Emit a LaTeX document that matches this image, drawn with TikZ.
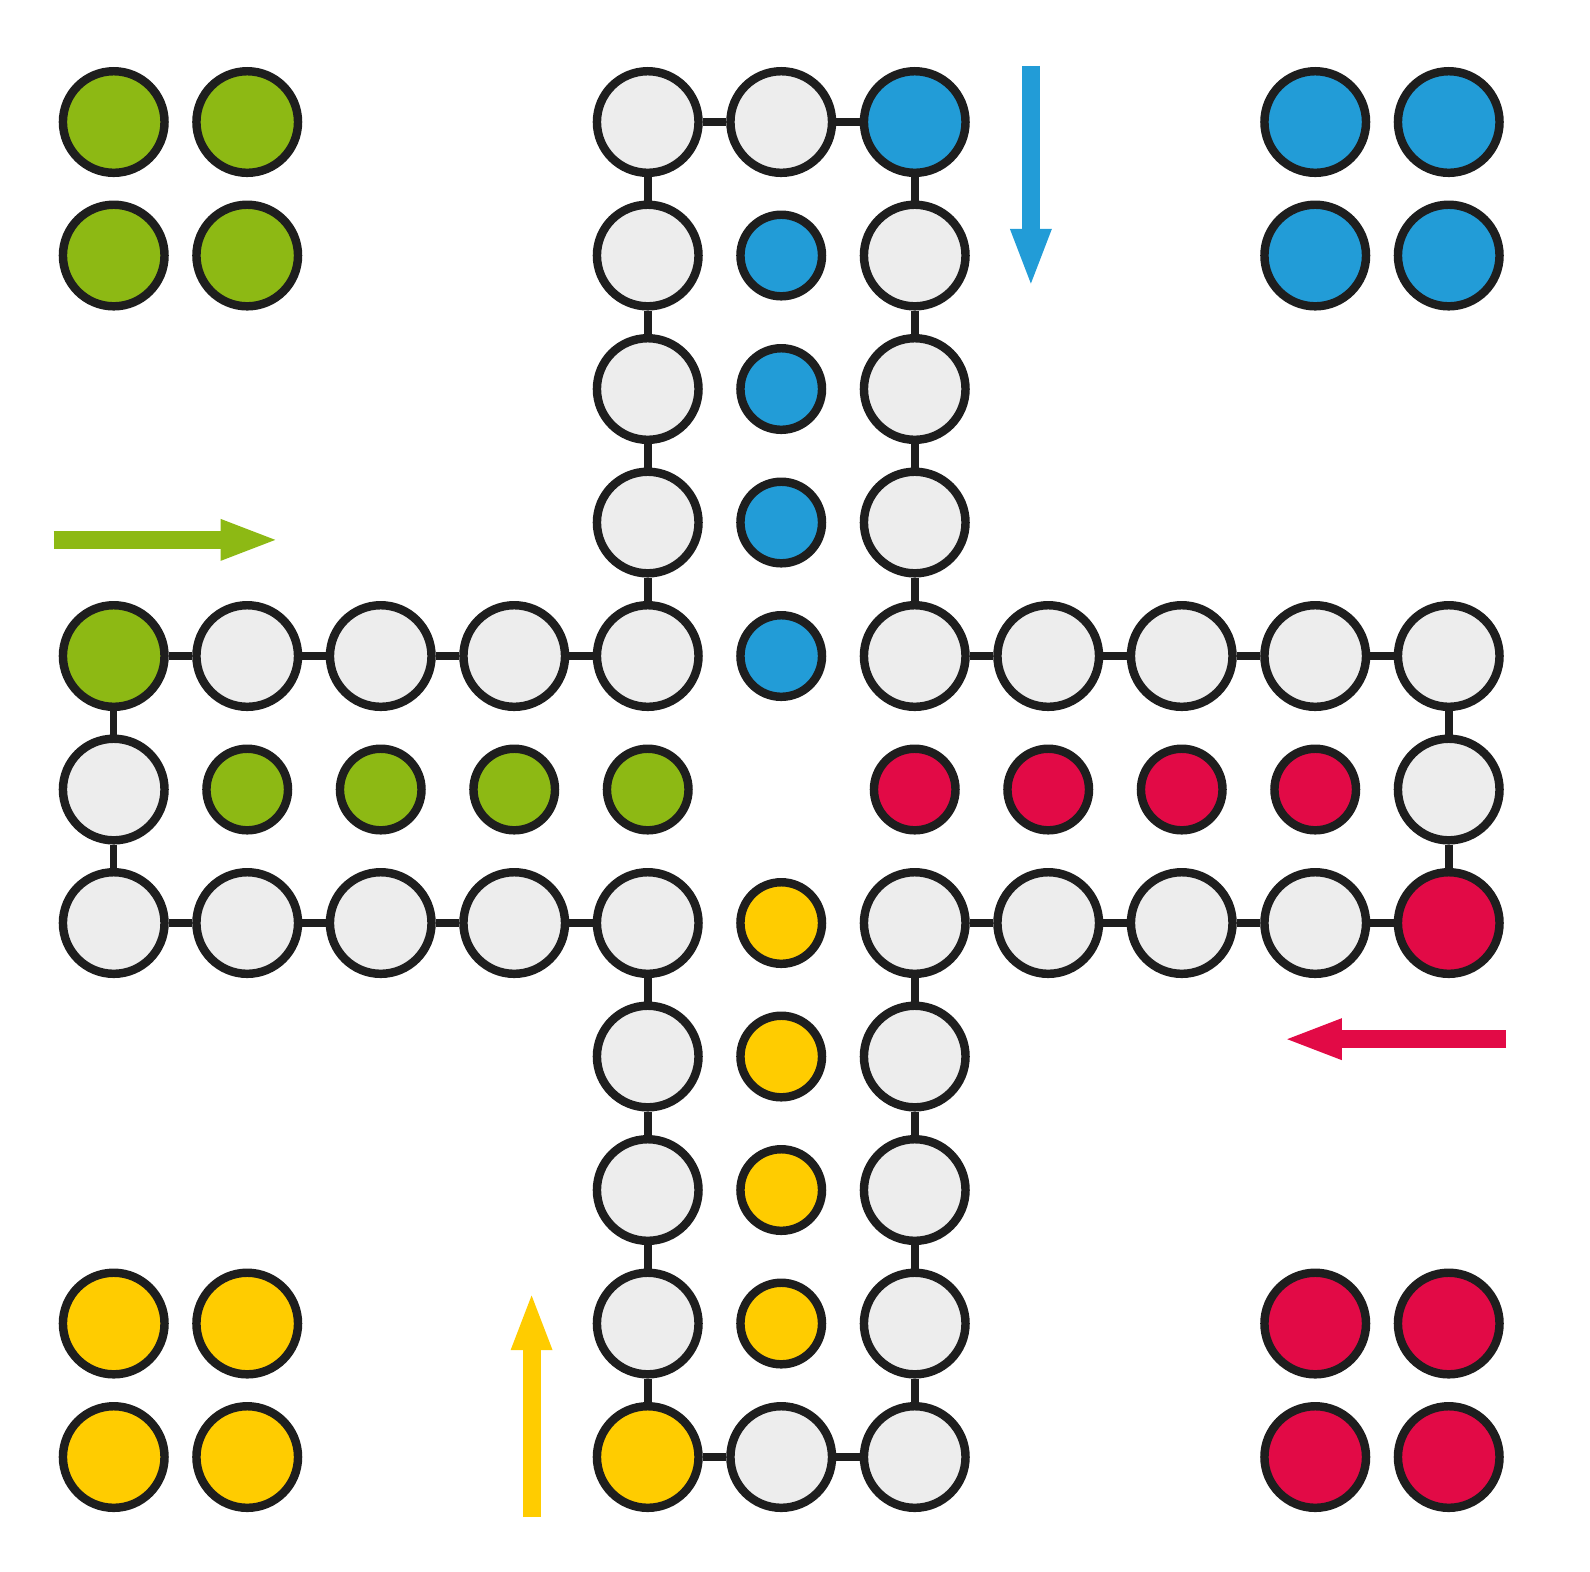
\documentclass[tikz,border=0pt]{standalone}
\usepackage{xcolor}
\usepackage{tikz}
\usetikzlibrary{arrows.meta}
\definecolor{ludoInk}{HTML}{1E1E1E}
\definecolor{ludoGrey}{HTML}{EDEDED}
\definecolor{ludoGreen}{HTML}{8DB914}
\definecolor{ludoBlue}{HTML}{229CD7}
\definecolor{ludoRed}{HTML}{E20A46}
\definecolor{ludoYellow}{HTML}{FFCC00}
\tikzset{
  field/.style={
    circle,
    draw=ludoInk,
    line width=1.8pt,
    fill=ludoGrey,
    minimum size=7.61mm,
    inner sep=0pt
  },
  goal/.style={field, minimum size=6.11mm},
  link/.style={draw=ludoInk, line width=1.6pt},
  runarrow/.style={line width=3.8pt, -{Triangle[length=4.1mm, width=3.15mm, line width=0pt]}}
}

\begin{document}
\begin{tikzpicture}
  \useasboundingbox (-0.852,-10.861) rectangle (11.058,0.914);

  % track, clockwise from the green start
  \foreach \x/\y/\col [count=\i] in {
      0/4/ludoGreen, 1/4/ludoGrey, 2/4/ludoGrey, 3/4/ludoGrey, 4/4/ludoGrey,
      4/3/ludoGrey, 4/2/ludoGrey, 4/1/ludoGrey, 4/0/ludoGrey, 5/0/ludoGrey,
      6/0/ludoBlue, 6/1/ludoGrey, 6/2/ludoGrey, 6/3/ludoGrey, 6/4/ludoGrey,
      7/4/ludoGrey, 8/4/ludoGrey, 9/4/ludoGrey, 10/4/ludoGrey, 10/5/ludoGrey,
      10/6/ludoRed, 9/6/ludoGrey, 8/6/ludoGrey, 7/6/ludoGrey, 6/6/ludoGrey,
      6/7/ludoGrey, 6/8/ludoGrey, 6/9/ludoGrey, 6/10/ludoGrey, 5/10/ludoGrey,
      4/10/ludoYellow, 4/9/ludoGrey, 4/8/ludoGrey, 4/7/ludoGrey, 4/6/ludoGrey,
      3/6/ludoGrey, 2/6/ludoGrey, 1/6/ludoGrey, 0/6/ludoGrey, 0/5/ludoGrey}
    \node[field, fill=\col] (t\i) at (\x,-\y) {};

  \foreach \i [remember=\i as \j (initially 40)] in {1,...,40}
    \draw[link] (t\j) -- (t\i);

  % home fields
  \foreach \x/\y [count=\k] in {0/0,1/0,0/1,1/1}
    \node[field, fill=ludoGreen] (gh\k) at (\x,-\y) {};
  \foreach \x/\y [count=\k] in {9/0,10/0,9/1,10/1}
    \node[field, fill=ludoBlue] (bh\k) at (\x,-\y) {};
  \foreach \x/\y [count=\k] in {9/9,10/9,9/10,10/10}
    \node[field, fill=ludoRed] (rh\k) at (\x,-\y) {};
  \foreach \x/\y [count=\k] in {0/9,1/9,0/10,1/10}
    \node[field, fill=ludoYellow] (yh\k) at (\x,-\y) {};

  % goal lanes
  \foreach \x [count=\k] in {1,...,4}
    \node[goal, fill=ludoGreen] (gg\k) at (\x,-5) {};
  \foreach \y [count=\k] in {1,...,4}
    \node[goal, fill=ludoBlue] (bg\k) at (5,-\y) {};
  \foreach \x [count=\k] in {9,8,7,6}
    \node[goal, fill=ludoRed] (rg\k) at (\x,-5) {};
  \foreach \y [count=\k] in {9,8,7,6}
    \node[goal, fill=ludoYellow] (yg\k) at (5,-\y) {};

  % direction of play
  \coordinate (ga) at (-0.45,-3.13);
  \coordinate (gb) at (1.21,-3.13);
  \coordinate (ba) at (6.87,0.42);
  \coordinate (bb) at (6.87,-1.21);
  \coordinate (ra) at (10.43,-6.87);
  \coordinate (rb) at (8.79,-6.87);
  \coordinate (ya) at (3.13,-10.45);
  \coordinate (yb) at (3.13,-8.79);
  \draw[runarrow, draw=ludoGreen, fill=ludoGreen] (ga) -- (gb);
  \draw[runarrow, draw=ludoBlue, fill=ludoBlue] (ba) -- (bb);
  \draw[runarrow, draw=ludoRed, fill=ludoRed] (ra) -- (rb);
  \draw[runarrow, draw=ludoYellow, fill=ludoYellow] (ya) -- (yb);
\end{tikzpicture}
\end{document}
